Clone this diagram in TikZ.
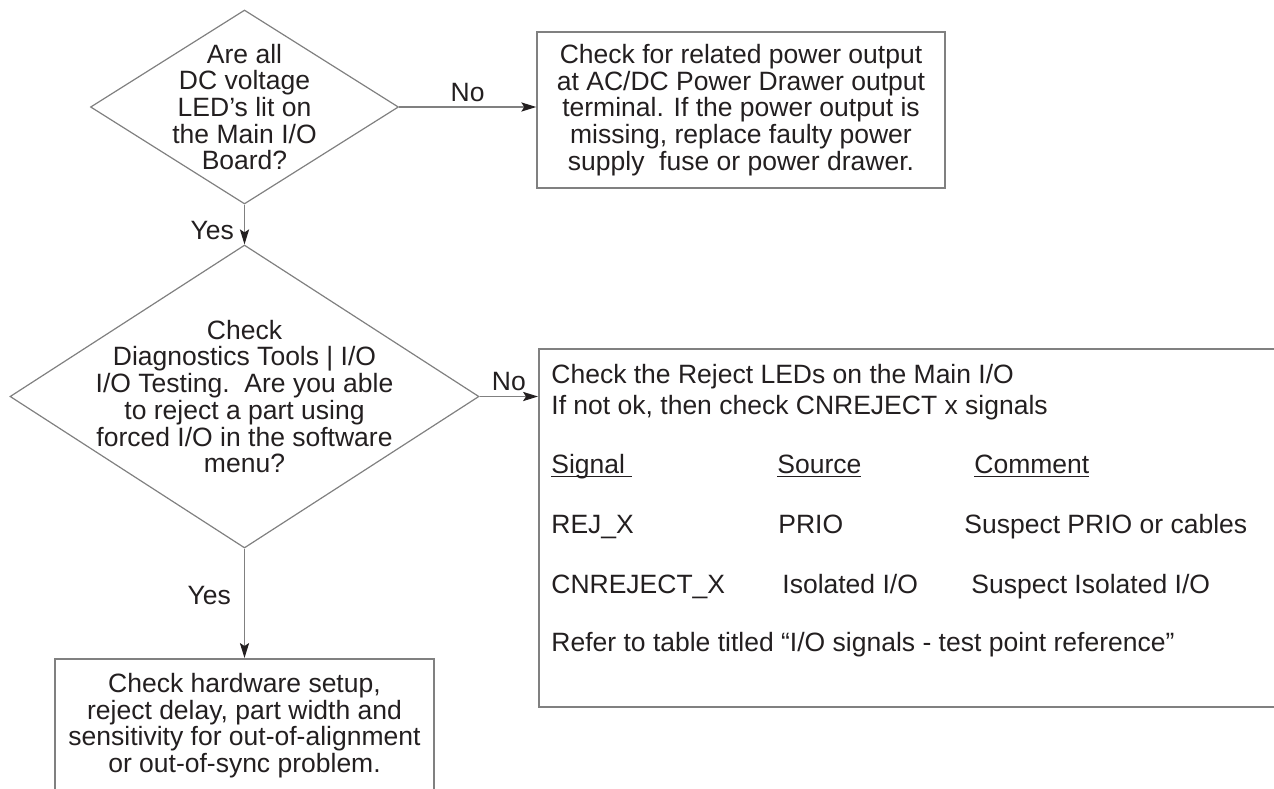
\documentclass[tikz,border=0pt]{standalone}
\usepackage{fontspec}
\setmainfont{Liberation Sans}
\usetikzlibrary{positioning, arrows.meta, shapes.geometric}

\definecolor{linegray}{RGB}{128,128,128}
\definecolor{inkdark}{RGB}{35,31,32}
\newcommand{\colhead}[1]{\underline{\smash{#1}}}

\begin{document}
\begin{tikzpicture}[
    x=0.5pt, y=-0.5pt,
    every node/.style={
        text=inkdark,
        font=\fontsize{13.25pt}{13.35pt}\selectfont
    },
    decision/.style={
        draw=linegray,
        line width=0.6pt,
        diamond,
        inner sep=0pt
    },
    box/.style={
        draw=linegray,
        line width=0.75pt,
        rectangle,
        align=center,
        inner sep=0pt
    },
    tag/.style={inner sep=0pt},
    arrow/.style={-{Stealth[length=7.5pt, width=4.6pt, inset=1.5pt, color=inkdark]}, draw=linegray, line width=0.65pt}
]

\useasboundingbox (0,0) rectangle (1274,788);
\clip (0,0) rectangle (1274,788);

% first question
\node[decision, minimum width=154pt, minimum height=97pt] (q1) at (244.5,107) {};
\node[tag, align=center] (q1txt) at (q1) {Are all\\DC voltage\\LED’s lit on\\the Main I/O\\Board?};

\node[box, minimum width=204pt, minimum height=78pt] (power) at (741,110)
    {Check for related power output\\at AC/DC Power Drawer output\\terminal. If the power output is\\missing, replace faulty power\\supply\ \ fuse or power drawer.};

% second question
\node[decision, minimum width=234.5pt, minimum height=151.5pt] (q2) at (244.5,396.5) {};
\node[tag, align=center] (q2txt) at (q2) {Check\\Diagnostics Tools | I/O\\I/O Testing.\ \ Are you able\\to reject a part using\\forced I/O in the software\\menu?};

% reject check panel
\node[box, minimum width=380pt, minimum height=179pt, anchor=north west] (reject) at (538,348) {};
\node[tag, anchor=mid west] (rj1) at (551,378) {Check the Reject LEDs on the Main I/O};
\node[tag, anchor=mid west] (rj2) at (551,409) {If not ok, then check CNREJECT x signals};

\node[tag, anchor=mid west] (hsig) at (551,468) {\colhead{Signal\ }};
\node[tag, anchor=mid west] (hsrc) at (777,468) {\colhead{Source}};
\node[tag, anchor=mid west] (hcom) at (974,468) {\colhead{Comment}};

\node[tag, anchor=mid west] (sig1) at (551,528) {REJ\_X};
\node[tag, anchor=mid west] (src1) at (778,528) {PRIO};
\node[tag, anchor=mid west] (com1) at (964,528) {Suspect PRIO or cables};

\node[tag, anchor=mid west] (sig2) at (551,588) {CNREJECT\_X};
\node[tag, anchor=mid west] (src2) at (782,588) {Isolated I/O};
\node[tag, anchor=mid west] (com2) at (971,588) {Suspect Isolated I/O};

\node[tag, anchor=mid west] (rj3) at (551,646) {Refer to table titled “I/O signals - test point reference”};

% hardware check
\node[box, minimum width=189.5pt, minimum height=67pt, anchor=north] (hw) at (244.5,658)
    {Check hardware setup,\\reject delay, part width and\\sensitivity for out-of-alignment\\or out-of-sync problem.};

\draw[arrow] (q1.east) -- (q1.east -| power.west)
    node[tag, midway, above=2.5pt] (no1) {No};
\draw[arrow] (q1.south) -- (q2.north)
    node[tag, pos=0.64, left=5pt] (yes1) {Yes};
\draw[arrow] (q2.east) -- (q2.east -| reject.west)
    node[tag, midway, above=2.5pt] (no2) {No};
\draw[arrow] (q2.south) -- (hw.north)
    node[tag, pos=0.43, left=6.5pt] (yes2) {Yes};

\end{tikzpicture}
\end{document}
